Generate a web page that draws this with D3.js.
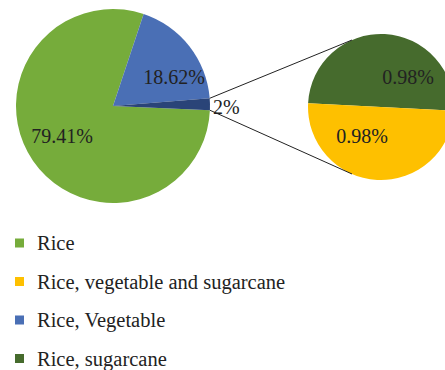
<!DOCTYPE html>
<html>
<head>
<meta charset="utf-8">
<script src="https://cdn.jsdelivr.net/npm/d3@7"></script>
<style>
  body { margin: 0; background: #fff; }
  svg { display: block; font-family: "Liberation Serif", "DejaVu Serif", serif; }
</style>
</head>
<body>
<div id="chart"></div>
<script>
// main pie: Rice, Rice+Vegetable, Other (split into secondary pie)
const mainLabels = ['Rice', 'Rice, Vegetable', 'Other'];
const mainValues = [79.41, 18.62, 1.96];
const mainText = ['79.41%', '18.62%', '2%'];

// secondary pie
const subLabels = ['Rice, sugarcane', 'Rice, vegetable and sugarcane'];
const subValues = [0.98, 0.98];

const legendLabels = ['Rice', 'Rice, vegetable and sugarcane', 'Rice, Vegetable', 'Rice, sugarcane'];

const colors = {
    'Rice': '#76ac3b',
    'Rice, Vegetable': '#4a6fb5',
    'Other': '#2a4478',
    'Rice, sugarcane': '#466b2d',
    'Rice, vegetable and sugarcane': '#fec000'
};

const width = 445, height = 370;
const deg = Math.PI / 180;

const svg = d3.select('#chart')
    .append('svg')
    .attr('width', width)
    .attr('height', height);

// main pie
const mainR = 97;
const mainC = [113, 106];
const mainPie = d3.pie().sort(null).value(d => d)
    .startAngle(-267.5 * deg).endAngle(92.5 * deg);
const mainArcs = mainPie(mainValues);
const mainArc = d3.arc().innerRadius(0).outerRadius(mainR);

const gMain = svg.append('g')
    .attr('transform', `translate(${mainC[0]},${mainC[1]})`);

gMain.selectAll('path')
    .data(mainArcs)
    .join('path')
    .attr('d', mainArc)
    .attr('fill', (d, i) => colors[mainLabels[i]]);

// secondary pie
const subR = 73;
const subC = [381, 107];
const subPie = d3.pie().sort(null).value(d => d)
    .startAngle(-87 * deg).endAngle(273 * deg);
const subArcs = subPie(subValues);
const subArc = d3.arc().innerRadius(0).outerRadius(subR);

const gSub = svg.append('g')
    .attr('transform', `translate(${subC[0]},${subC[1]})`);

gSub.selectAll('path')
    .data(subArcs)
    .join('path')
    .attr('d', subArc)
    .attr('fill', (d, i) => colors[subLabels[i]]);

// connector lines from the "Other" slice to the secondary pie
const other = mainArcs[2];
const p1 = [mainC[0] + mainR * Math.sin(other.startAngle), mainC[1] - mainR * Math.cos(other.startAngle)];
const p2 = [mainC[0] + mainR * Math.sin(other.endAngle), mainC[1] - mainR * Math.cos(other.endAngle)];
const dx = -29;
const dy = Math.sqrt(subR * subR - dx * dx);
const q1 = [subC[0] + dx, subC[1] - dy];
const q2 = [subC[0] + dx, subC[1] + dy];

svg.append('line')
    .attr('x1', p1[0]).attr('y1', p1[1])
    .attr('x2', q1[0]).attr('y2', q1[1])
    .attr('stroke', '#222').attr('stroke-width', 1);
svg.append('line')
    .attr('x1', p2[0]).attr('y1', p2[1])
    .attr('x2', q2[0]).attr('y2', q2[1])
    .attr('stroke', '#222').attr('stroke-width', 1);

// labels (Excel-style placement, offsets from pie centre)
const mainLabelPos = [[-51, 30], [61, -29.5]];
const subLabelPos = [[27, -30.5], [-19, 28.5]];

const labelStyle = sel => sel
    .attr('text-anchor', 'middle')
    .attr('dominant-baseline', 'central')
    .style('font-size', '20px')
    .attr('fill', '#222');

gMain.selectAll('text.main')
    .data(mainArcs.slice(0, 2))
    .join('text')
    .attr('class', 'main')
    .attr('x', (d, i) => mainLabelPos[i][0])
    .attr('y', (d, i) => mainLabelPos[i][1])
    .text((d, i) => mainText[i])
    .call(labelStyle);

svg.append('text')
    .attr('x', 213).attr('y', 107)
    .text(mainText[2])
    .call(labelStyle)
    .attr('text-anchor', 'start');

gSub.selectAll('text')
    .data(subArcs)
    .join('text')
    .attr('x', (d, i) => subLabelPos[i][0])
    .attr('y', (d, i) => subLabelPos[i][1])
    .text(d => d.value.toFixed(2) + '%')
    .call(labelStyle);

// legend
const legend = svg.append('g');
const rows = legend.selectAll('g')
    .data(legendLabels)
    .join('g')
    .attr('transform', (d, i) => `translate(15,${243 + i * 38.5})`);

rows.append('rect')
    .attr('x', 0).attr('y', -4.5)
    .attr('width', 9).attr('height', 9)
    .attr('fill', d => colors[d]);

rows.append('text')
    .attr('x', 22)
    .attr('dominant-baseline', 'central')
    .style('font-size', '20.5px')
    .attr('fill', '#222')
    .text(d => d);
</script>
</body>
</html>
